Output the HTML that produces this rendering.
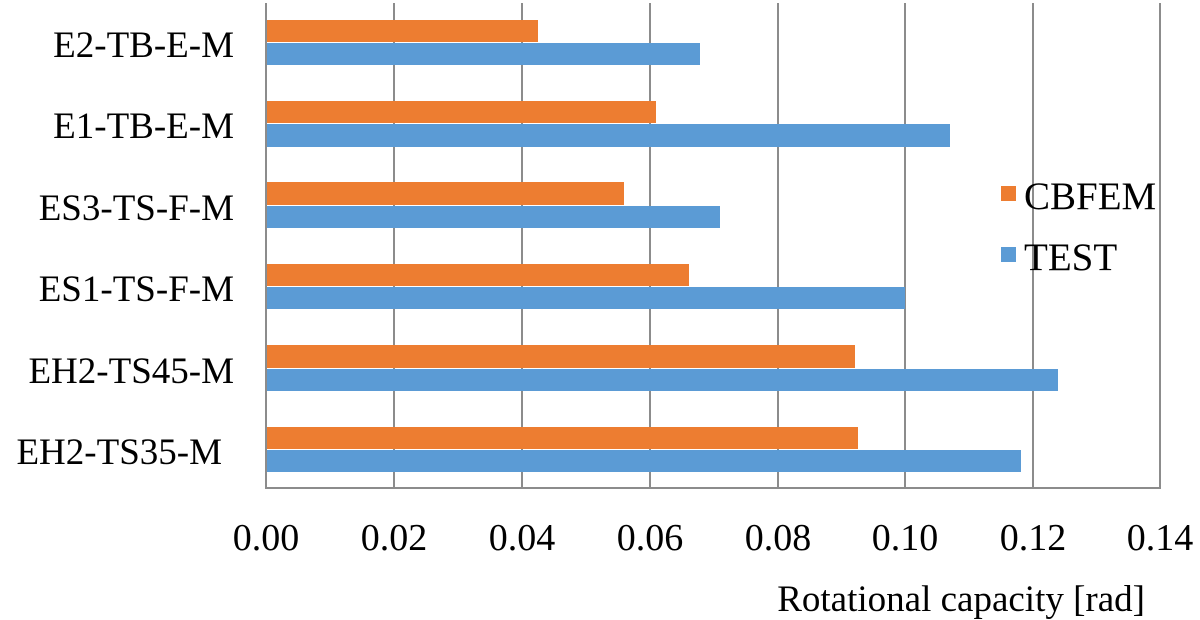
<!DOCTYPE html>
<html><head><style>body{margin:0;background:#fff}svg{display:block}text{font-family:"Liberation Serif",serif;fill:#000}</style></head>
<body>
<svg width="1200" height="620" xmlns="http://www.w3.org/2000/svg">
<g stroke="#8c8c8c" stroke-width="2">
<line x1="266" y1="3" x2="266" y2="489"/>
<line x1="394" y1="3" x2="394" y2="489"/>
<line x1="522" y1="3" x2="522" y2="489"/>
<line x1="650" y1="3" x2="650" y2="489"/>
<line x1="778" y1="3" x2="778" y2="489"/>
<line x1="905" y1="3" x2="905" y2="489"/>
<line x1="1033" y1="3" x2="1033" y2="489"/>
<line x1="1160" y1="3" x2="1160" y2="489"/>
<line x1="265" y1="488" x2="1161" y2="488"/>
</g>
<g>
<rect x="267" y="20" width="271" height="22" fill="#ed7d31"/><rect x="267" y="43" width="433" height="22" fill="#5b9bd5"/>
<rect x="267" y="101" width="389" height="22" fill="#ed7d31"/><rect x="267" y="124" width="683" height="23" fill="#5b9bd5"/>
<rect x="267" y="182" width="357" height="23" fill="#ed7d31"/><rect x="267" y="206" width="453" height="22" fill="#5b9bd5"/>
<rect x="267" y="264" width="422" height="22" fill="#ed7d31"/><rect x="267" y="287" width="638" height="22" fill="#5b9bd5"/>
<rect x="267" y="345" width="588" height="23" fill="#ed7d31"/><rect x="267" y="369" width="791" height="22" fill="#5b9bd5"/>
<rect x="267" y="427" width="591" height="22" fill="#ed7d31"/><rect x="267" y="450" width="754" height="22" fill="#5b9bd5"/>
</g>
<g font-size="37" text-anchor="end">
<text x="234" y="57">E2-TB-E-M</text>
<text x="234" y="138">E1-TB-E-M</text>
<text x="234" y="220">ES3-TS-F-M</text>
<text x="234" y="301">ES1-TS-F-M</text>
<text x="234" y="383">EH2-TS45-M</text>
<text x="222" y="464">EH2-TS35-M</text>
</g>
<g font-size="38" text-anchor="middle">
<text x="266" y="550">0.00</text><text x="394" y="550">0.02</text><text x="522" y="550">0.04</text><text x="650" y="550">0.06</text><text x="778" y="550">0.08</text><text x="905" y="550">0.10</text><text x="1033" y="550">0.12</text><text x="1160" y="550">0.14</text>
</g>
<text x="1145" y="611" font-size="37" text-anchor="end">Rotational capacity [rad]</text>
<rect x="1001" y="186" width="15" height="15" fill="#ed7d31"/>
<text x="1024" y="209" font-size="39">CBFEM</text>
<rect x="1001" y="247" width="15" height="15" fill="#5b9bd5"/>
<text x="1024" y="270" font-size="39">TEST</text>
</svg>
</body></html>
